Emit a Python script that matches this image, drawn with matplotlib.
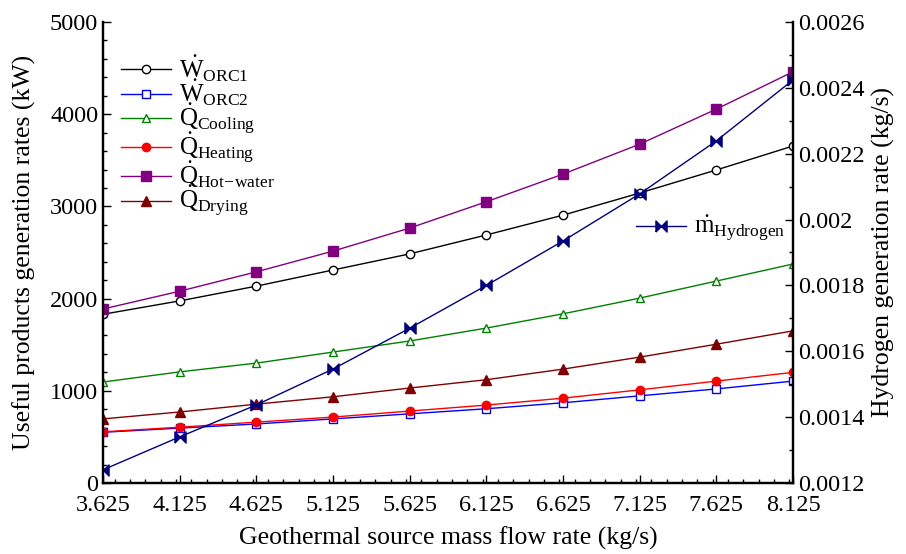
import numpy as np
import matplotlib.pyplot as plt
from matplotlib.ticker import MultipleLocator

plt.rcParams['font.family'] = 'Liberation Serif'
plt.rcParams['mathtext.fontset'] = 'custom'
plt.rcParams['mathtext.rm'] = 'Liberation Serif'
plt.rcParams['mathtext.it'] = 'Liberation Serif:italic'

# geothermal source mass flow rate (kg/s)
flow = [3.625, 4.125, 4.625, 5.125, 5.625, 6.125, 6.625, 7.125, 7.625, 8.125]

# product rates (kW)
w_orc1 = [1830, 1975, 2135, 2310, 2485, 2690, 2905, 3145, 3395, 3655]
w_orc2 = [550, 595, 640, 695, 750, 805, 870, 945, 1020, 1105]
q_cool = [1095, 1205, 1300, 1420, 1540, 1680, 1835, 2005, 2190, 2375]
q_heat = [555, 605, 660, 715, 780, 845, 920, 1010, 1105, 1200]
q_hotw = [1887, 2080, 2290, 2515, 2765, 3050, 3350, 3675, 4055, 4460]
q_dry = [695, 770, 855, 935, 1030, 1120, 1235, 1365, 1505, 1650]

# hydrogen (kg/s)
m_h2 = [0.00124, 0.00134, 0.001437, 0.001546, 0.00167, 0.0018,
        0.001935, 0.002078, 0.002239, 0.002424]
h2_ticks = [0.0012, 0.0014, 0.0016, 0.0018, 0.002, 0.0022, 0.0024, 0.0026]

fig = plt.figure(figsize=(9.06, 5.54), dpi=100)
ax = fig.add_axes([0.1137, 0.1282, 0.7616, 0.8321])
ax2 = ax.twinx()

lw = 1.0
ms = 6
ax.plot(flow, w_orc1, '-o', color='black', mfc='white', lw=lw, ms=ms,
        label=r'$\dot{\mathrm{W}}_{\mathrm{ORC1}}$')
ax.plot(flow, w_orc2, '-s', color='#0000ff', mfc='white', lw=lw, ms=ms,
        label=r'$\dot{\mathrm{W}}_{\mathrm{ORC2}}$')
ax.plot(flow, q_cool, '-^', color='#008000', mfc='white', lw=lw, ms=ms,
        label=r'$\dot{\mathrm{Q}}_{\mathrm{Cooling}}$')
ax.plot(flow, q_heat, '-o', color='#ff0000', mfc='#ff0000', lw=lw, ms=ms,
        label=r'$\dot{\mathrm{Q}}_{\mathrm{Heating}}$')
ax.plot(flow, q_hotw, '-s', color='#800080', mfc='#800080', lw=lw, ms=ms + 1,
        label=r'$\dot{\mathrm{Q}}_{\mathrm{Hot\!-\!water}}$')
ax.plot(flow, q_dry, '-^', color='#800000', mfc='#800000', lw=lw, ms=ms + 1,
        label=r'$\dot{\mathrm{Q}}_{\mathrm{Drying}}$')

# bow-tie marker for hydrogen: two triangles tip to tip
bowtie = [(-1, -1), (-1, 1), (1, -1), (1, 1), (-1, -1)]
h2_line, = ax2.plot(flow, m_h2, '-', color='#000080', lw=lw, marker=bowtie,
                    ms=ms + 2, label=r'$\dot{\mathrm{m}}_{\mathrm{Hydrogen}}$')

ax.set_xlim(3.625, 8.125)
ax.set_ylim(0, 5000)
ax2.set_ylim(0.0012, 0.0026)

ax.set_xticks(flow)
ax.xaxis.set_minor_locator(MultipleLocator(0.1))
ax.yaxis.set_major_locator(MultipleLocator(1000))
ax.yaxis.set_minor_locator(MultipleLocator(200))
ax2.set_yticks(h2_ticks)
ax2.set_yticklabels([f'{t:g}' for t in h2_ticks])
ax2.yaxis.set_minor_locator(MultipleLocator(0.0001))

for a in (ax, ax2):
    a.tick_params(which='both', direction='in', labelsize=17.5)
    a.tick_params(which='major', length=6, width=1)
    a.tick_params(which='minor', length=3, width=1)
    a.spines['top'].set_visible(False)
    for s in a.spines.values():
        s.set_linewidth(1.6)
ax.tick_params(axis='x', pad=9)

ax.set_xlabel('Geothermal source mass flow rate (kg/s)', fontsize=18.5, labelpad=7)
ax.set_ylabel('Useful products generation rates (kW)', fontsize=18.5, labelpad=10)
ax2.set_ylabel('Hydrogen generation rate (kg/s)', fontsize=18.5, labelpad=5)

handles, labels = ax.get_legend_handles_labels()
leg = ax2.legend(handles, labels, loc='upper left', bbox_to_anchor=(0.005, 0.965),
                 frameon=False, fontsize=18, handlelength=2.0, labelspacing=-0.25,
                 handletextpad=0.3, borderaxespad=0.2)
ax2.add_artist(leg)
ax2.legend([h2_line], [h2_line.get_label()],
           loc='upper left', bbox_to_anchor=(0.74, 0.632), frameon=False,
           fontsize=18, handlelength=2.0, handletextpad=0.3)

fig.savefig('out.png', dpi=100)
